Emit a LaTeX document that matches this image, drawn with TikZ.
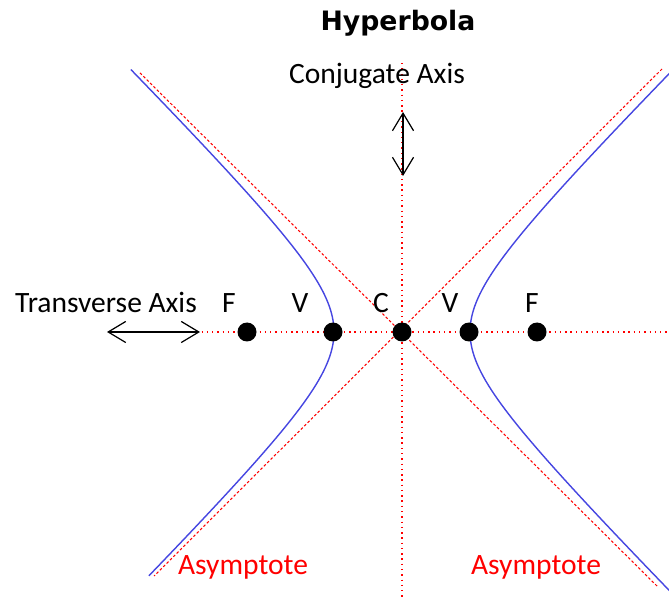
\documentclass[tikz,border=0pt]{standalone}
\usepackage{fontspec}
\setmainfont{Carlito}
\newfontfamily\titlefont{DejaVu Sans}
\usepackage{xcolor}
\usetikzlibrary{arrows.meta, positioning}
\definecolor{hypblue}{RGB}{70,70,225}

\begin{document}
\begin{tikzpicture}[
  x=0.02cm, y=-0.02cm,
  dotnode/.style={circle, fill=black, inner sep=0pt, minimum size=0.38cm},
  lbl/.style={font=\fontsize{16.8}{19}\selectfont, inner sep=0pt},
  asylbl/.style={lbl, text=red},
  axisline/.style={red, line width=0.7pt, dash pattern=on 0.8pt off 2.2pt},
  asymline/.style={red, line width=0.6pt, dash pattern=on 1.5pt off 1.2pt},
  branch/.style={draw=hypblue, line width=0.8pt},
  axisarrow/.style={{Straight Barb[length=10pt,width=12pt]}-{Straight Barb[length=10pt,width=12pt]},
                    line width=0.7pt}
]
\clip (0,0) rectangle (669,597);

% Axes and asymptotes
\coordinate (hl) at (133,332);
\coordinate (hr) at (669,332);
\coordinate (vt) at (402,63);
\coordinate (vb) at (402,597);
\coordinate (a1s) at (140,73);
\coordinate (a1e) at (657,586);
\coordinate (a2s) at (662,69);
\coordinate (a2e) at (154,576);

\draw[axisline] (hl) -- (hr);
\draw[axisline] (vt) -- (vb);
\draw[asymline] (a1s) -- (a1e);
\draw[asymline] (a2s) -- (a2e);

% Branches
\draw[branch] plot[domain=-2.06:1.99, samples=80, variable=\t]
  ({402-68*cosh(\t)}, {332+68*sinh(\t)});
\draw[branch] plot[domain=-2.05:2.08, samples=80, variable=\t]
  ({402+68*cosh(\t)}, {332+68*sinh(\t)});

% Foci, vertices, centre
\node[dotnode] (fL) at (247,332) {};
\node[dotnode] (vL) at (333,332) {};
\node[dotnode] (c)  at (402,332) {};
\node[dotnode] (vR) at (469,332) {};
\node[dotnode] (fR) at (537,332) {};

\node[lbl] (fLlbl) at (229,303) {F};
\node[lbl] (vLlbl) at (300,303) {V};
\node[lbl] (clbl)  at (381,303) {C};
\node[lbl] (vRlbl) at (450,303) {V};
\node[lbl] (fRlbl) at (532,303) {F};

% Title and axis names
\node[font=\titlefont\bfseries\fontsize{15.2}{17}\selectfont] (title) at (398,23) {Hyperbola};
\node[lbl] (conj) at (377,76) {Conjugate Axis};
\node[lbl] (trans) at (106,302) {Transverse Axis};

\coordinate (ta1) at (107,332);
\coordinate (ta2) at (200,332);
\coordinate (ca1) at (403,112);
\coordinate (ca2) at (403,176);
\draw[axisarrow] (ta1) -- (ta2);
\draw[axisarrow] (ca1) -- (ca2);

% Asymptote names
\node[asylbl] (asyL) at (243,567) {Asymptote};
\node[asylbl] (asyR) at (536,567) {Asymptote};

\end{tikzpicture}
\end{document}
